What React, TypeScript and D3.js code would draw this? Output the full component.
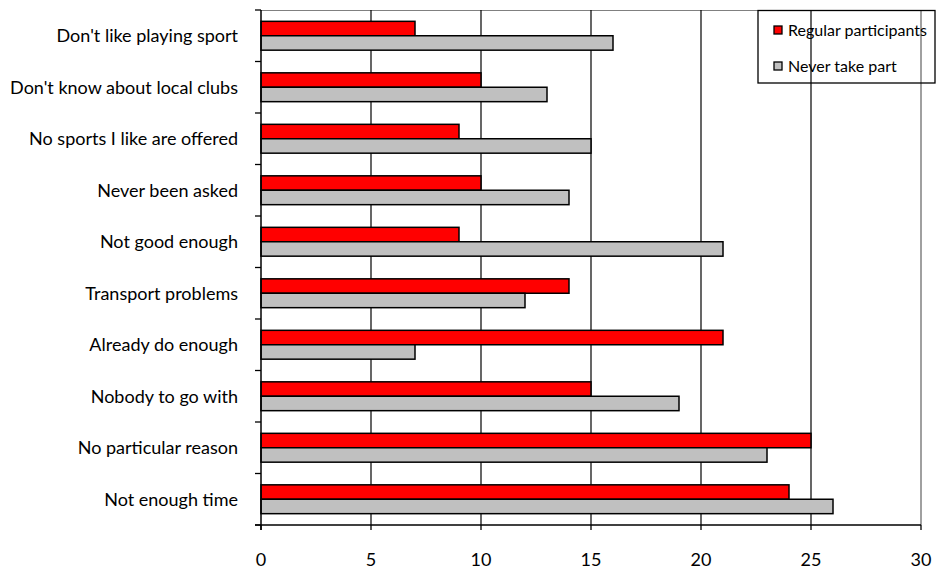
import React from "react";
import * as d3 from "d3";

const categories = [
  "Don't like playing sport",
  "Don't know about local clubs",
  "No sports I like are offered",
  "Never been asked",
  "Not good enough",
  "Transport problems",
  "Already do enough",
  "Nobody to go with",
  "No particular reason",
  "Not enough time",
];
const regularParticipants = [7, 10, 9, 10, 9, 14, 21, 15, 25, 24];
const neverTakePart = [16, 13, 15, 14, 21, 12, 7, 19, 23, 26];
const xTicks = [0, 5, 10, 15, 20, 25, 30];

const series = [
  { name: "Regular participants", values: regularParticipants, color: "#FF0000" },
  { name: "Never take part", values: neverTakePart, color: "#C0C0C0" },
];

const W = 938;
const H = 569;
const left = 261;
const right = 921;
const top = 10;
const bottom = 525;
const FONT = "Lato, 'Open Sans', sans-serif";

export default function App() {
  const x = d3.scaleLinear().domain([0, 30]).range([left, right]);
  const y = d3
    .scaleBand<string>()
    .domain(categories)
    .range([top, bottom])
    .paddingInner(0.44)
    .paddingOuter(0.22);
  const sub = d3
    .scaleBand<string>()
    .domain(series.map((s) => s.name))
    .range([0, y.bandwidth()]);
  const step = y.step();

  return (
    <div style={{ position: "absolute", left: 0, top: 0 }}>
      <svg width={W} height={H} style={{ display: "block", background: "#fff" }}>
        {/* plot frame: grey top/right edges */}
        <line x1={left} x2={right} y1={top + 0.5} y2={top + 0.5} stroke="#808080" strokeWidth={1} />
        <line x1={right} x2={right} y1={top} y2={bottom} stroke="#808080" strokeWidth={1.5} />

        {/* vertical gridlines */}
        {xTicks.slice(1, -1).map((t) => (
          <line key={"g" + t} x1={x(t)} x2={x(t)} y1={top} y2={bottom} stroke="#000" strokeWidth={1.2} />
        ))}

        {/* bars */}
        {categories.map((c, i) =>
          series.map((s) => (
            <rect
              key={c + s.name}
              x={x(0)}
              y={(y(c) ?? 0) + (sub(s.name) ?? 0)}
              width={x(s.values[i]) - x(0)}
              height={sub.bandwidth()}
              fill={s.color}
              stroke="#000"
              strokeWidth={1.5}
            />
          ))
        )}

        {/* y axis */}
        <line x1={left} x2={left} y1={top} y2={bottom + 5} stroke="#000" strokeWidth={1.5} />
        {d3.range(categories.length + 1).map((k) => (
          <line
            key={"yt" + k}
            x1={left - 6}
            x2={left}
            y1={top + k * step}
            y2={top + k * step}
            stroke="#000"
            strokeWidth={1.3}
          />
        ))}
        {categories.map((c) => (
          <text
            key={"l" + c}
            x={238}
            y={(y(c) ?? 0) + y.bandwidth() / 2}
            dy="0.35em"
            textAnchor="end"
            fontFamily={FONT}
            fontSize={18}
            fill="#000"
          >
            {c}
          </text>
        ))}

        {/* x axis */}
        <line x1={left - 6} x2={right} y1={bottom} y2={bottom} stroke="#000" strokeWidth={1.5} />
        {xTicks.map((t) => (
          <g key={"xt" + t}>
            <line x1={x(t)} x2={x(t)} y1={bottom} y2={bottom + 5} stroke="#000" strokeWidth={1.3} />
            <text
              x={x(t)}
              y={560}
              dy="0.35em"
              textAnchor="middle"
              fontFamily={FONT}
              fontSize={18}
              fill="#000"
            >
              {t}
            </text>
          </g>
        ))}

        {/* legend */}
        <rect x={758} y={10.5} width={177} height={72.5} fill="none" stroke="#000" strokeWidth={1.3} />
        {series.map((s, i) => (
          <g key={"lg" + s.name} transform={`translate(774, ${26 + i * 36})`}>
            <rect x={0} y={0} width={8} height={8} fill={s.color} stroke="#000" strokeWidth={1.3} />
            <text x={14} y={4} dy="0.35em" fontFamily={FONT} fontSize={16} fill="#000">
              {s.name}
            </text>
          </g>
        ))}
      </svg>
    </div>
  );
}
